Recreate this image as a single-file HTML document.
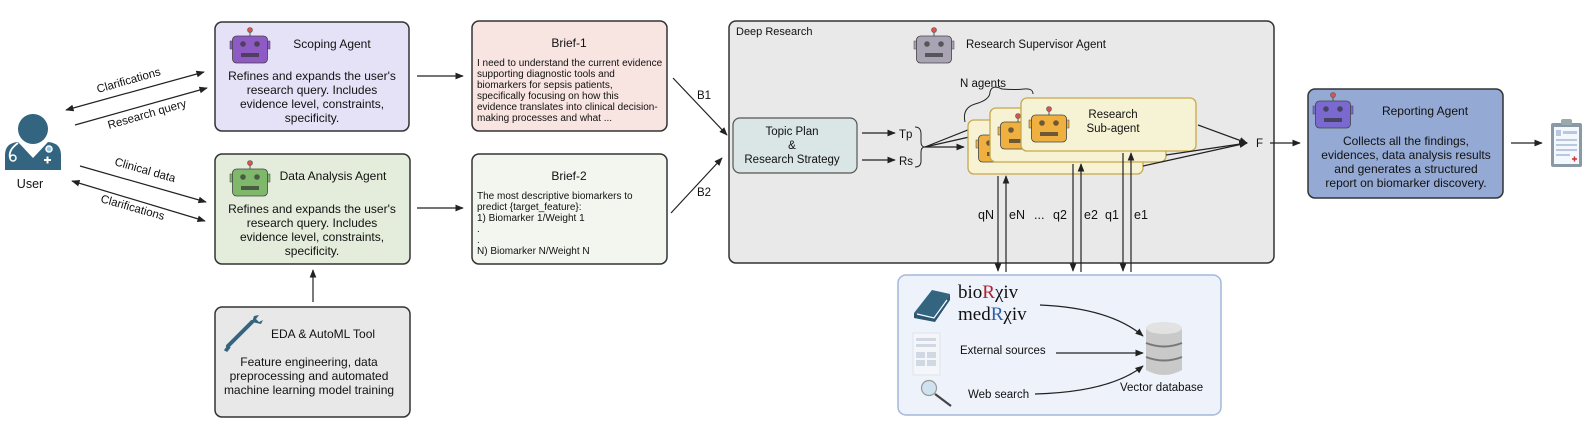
<!DOCTYPE html>
<html><head><meta charset="utf-8"><style>
html,body{margin:0;padding:0;background:#fff}
svg{display:block}
text{font-family:"Liberation Sans",sans-serif;fill:#111}
</style></head><body>
<svg width="1588" height="439" viewBox="0 0 1588 439" xmlns="http://www.w3.org/2000/svg">
<defs>
<marker id="ah" viewBox="0 0 10 10" refX="9" refY="5" markerWidth="7" markerHeight="7" orient="auto-start-reverse"><path d="M0,1 L10,5 L0,9 z" fill="#222"/></marker>
<g id="robot">
<line x1="20" y1="2" x2="20" y2="9" stroke="#555" stroke-width="1"/>
<circle cx="20" cy="3" r="2.5" fill="#d9534f" stroke="#555" stroke-width="0.6"/>
<rect x="0" y="14" width="3" height="8" fill="currentColor" stroke="#444" stroke-width="0.5"/>
<rect x="37" y="14" width="3" height="8" fill="currentColor" stroke="#444" stroke-width="0.5"/>
<rect x="2.5" y="9" width="35" height="27" rx="4" fill="currentColor" stroke="#444" stroke-width="0.8"/>
<circle cx="13" cy="17" r="2.8" fill="#333" opacity="0.7"/>
<circle cx="27" cy="17" r="2.8" fill="#333" opacity="0.7"/>
<rect x="11" y="26" width="18" height="4" fill="#333" opacity="0.7"/>
</g>
</defs>

<!-- User -->
<g fill="#336580">
<circle cx="33" cy="129" r="15"/>
<path d="M5,170 L5,155 Q5,143 18,142 L33,158 L48,142 Q61,143 61,155 L61,170 z"/>
</g>
<path d="M18,143 Q8,150 10,158" stroke="#fff" stroke-width="1.8" fill="none"/>
<circle cx="13" cy="158" r="3" stroke="#fff" stroke-width="1.5" fill="none"/>
<circle cx="49" cy="149" r="3" stroke="#fff" stroke-width="1.5" fill="#8ec6e6"/>
<path d="M44,160 h7 M47.5,156.5 v7" stroke="#fff" stroke-width="2"/>
<text x="30" y="188" font-size="12.5" text-anchor="middle">User</text>

<!-- user arrows -->
<line x1="66" y1="110" x2="204" y2="72" stroke="#222" stroke-width="1.2" marker-start="url(#ah)" marker-end="url(#ah)"/>
<line x1="75" y1="125" x2="207" y2="88" stroke="#222" stroke-width="1.2" marker-end="url(#ah)"/>
<line x1="80" y1="166" x2="206" y2="202" stroke="#222" stroke-width="1.2" marker-end="url(#ah)"/>
<line x1="72" y1="181" x2="205" y2="221" stroke="#222" stroke-width="1.2" marker-start="url(#ah)" marker-end="url(#ah)"/>
<text font-size="11.5" transform="translate(98,93) rotate(-16)">Clarifications</text>
<text font-size="11.5" transform="translate(109,129) rotate(-16)">Research query</text>
<text font-size="11.5" transform="translate(114,165) rotate(16)">Clinical data</text>
<text font-size="11.5" transform="translate(100,202) rotate(16)">Clarifications</text>

<!-- Scoping -->
<rect x="215" y="22" width="194" height="109" rx="7" fill="#e5e2f7" stroke="#333" stroke-width="1.5"/>
<use href="#robot" x="230" y="27" style="color:#8e5ac4"/>
<text x="332" y="48" font-size="12" text-anchor="middle">Scoping Agent</text>
<g font-size="12" text-anchor="middle"><text x="312" y="80">Refines and expands the user's</text><text x="312" y="94">research query. Includes</text><text x="312" y="108">evidence level, constraints,</text><text x="312" y="122">specificity.</text></g>

<!-- Data Analysis -->
<rect x="215" y="154" width="195" height="110" rx="7" fill="#e4ecdc" stroke="#333" stroke-width="1.5"/>
<use href="#robot" x="230" y="160" style="color:#7fb86a"/>
<text x="333" y="180" font-size="12" text-anchor="middle">Data Analysis Agent</text>
<g font-size="12" text-anchor="middle"><text x="312" y="213">Refines and expands the user's</text><text x="312" y="227">research query. Includes</text><text x="312" y="241">evidence level, constraints,</text><text x="312" y="255">specificity.</text></g>

<!-- EDA -->
<rect x="215" y="307" width="195" height="110" rx="7" fill="#e8e8e8" stroke="#333" stroke-width="1.5"/>
<path d="M228,346 L252,322" stroke="#336580" stroke-width="4" stroke-linecap="round"/>
<path d="M252,322 l2,-6 l5,-1 l-3,4 l3,3 l4,-2 l-2,4 z" fill="#336580"/>
<path d="M228,346 l-3,4 l2,1 l3,-4" fill="#336580" stroke="#336580" stroke-width="1.5"/>
<text x="323" y="338" font-size="12" text-anchor="middle">EDA &amp; AutoML Tool</text>
<g font-size="12" text-anchor="middle"><text x="309" y="366">Feature engineering, data</text><text x="309" y="380">preprocessing and automated</text><text x="309" y="394">machine learning model training</text></g>
<line x1="313" y1="302" x2="313" y2="270" stroke="#222" stroke-width="1.2" marker-end="url(#ah)"/>

<line x1="417" y1="76" x2="463" y2="76" stroke="#222" stroke-width="1.2" marker-end="url(#ah)"/>
<line x1="417" y1="208" x2="463" y2="208" stroke="#222" stroke-width="1.2" marker-end="url(#ah)"/>

<!-- Briefs -->
<rect x="472" y="21" width="195" height="110" rx="7" fill="#f8e4e1" stroke="#333" stroke-width="1.5"/>
<text x="569" y="47" font-size="12" text-anchor="middle">Brief-1</text>
<g font-size="10"><text x="477" y="66">I need to understand the current evidence</text><text x="477" y="77">supporting diagnostic tools and</text><text x="477" y="88">biomarkers for sepsis patients,</text><text x="477" y="99">specifically focusing on how this</text><text x="477" y="110">evidence translates into clinical decision-</text><text x="477" y="121">making processes and what ...</text></g>
<rect x="472" y="154" width="195" height="110" rx="7" fill="#f3f6ef" stroke="#333" stroke-width="1.5"/>
<text x="569" y="180" font-size="12" text-anchor="middle">Brief-2</text>
<g font-size="10"><text x="477" y="199">The most descriptive biomarkers to</text><text x="477" y="210">predict {target_feature}:</text><text x="477" y="221">1) Biomarker 1/Weight 1</text><text x="477" y="232">.</text><text x="477" y="243">.</text><text x="477" y="254">N) Biomarker N/Weight N</text></g>

<line x1="673" y1="78" x2="727" y2="135" stroke="#222" stroke-width="1.2" marker-end="url(#ah)"/>
<line x1="671" y1="213" x2="722" y2="158" stroke="#222" stroke-width="1.2" marker-end="url(#ah)"/>
<text x="697" y="99" font-size="11.5">B1</text>
<text x="697" y="196" font-size="11.5">B2</text>

<!-- Deep research -->
<rect x="729" y="21" width="545" height="242" rx="7" fill="#e9e9e9" stroke="#333" stroke-width="1.5"/>
<text x="736" y="35" font-size="11">Deep Research</text>
<use href="#robot" x="914" y="27" style="color:#a8a4b4"/>
<text x="966" y="48" font-size="11.5">Research Supervisor Agent</text>

<rect x="733" y="118" width="124" height="55" rx="7" fill="#d9e6e5" stroke="#555" stroke-width="1.2"/>
<g font-size="11.5" text-anchor="middle"><text x="792" y="135">Topic Plan</text><text x="792" y="149">&amp;</text><text x="792" y="163">Research Strategy</text></g>
<line x1="862" y1="133" x2="895" y2="133" stroke="#222" stroke-width="1.2" marker-end="url(#ah)"/>
<line x1="862" y1="160" x2="895" y2="160" stroke="#222" stroke-width="1.2" marker-end="url(#ah)"/>
<text x="899" y="138" font-size="11.5">Tp</text>
<text x="899" y="165" font-size="11.5">Rs</text>
<path d="M915,127 Q921,127 921,134 L921,142 Q921,147 925,147 Q921,147 921,152 L921,161 Q921,167 915,167" stroke="#222" stroke-width="1" fill="none"/>
<line x1="925" y1="147" x2="964" y2="147" stroke="#222" stroke-width="1.2" marker-end="url(#ah)"/>
<line x1="925" y1="147" x2="987" y2="133" stroke="#222" stroke-width="1.2" marker-end="url(#ah)"/>
<line x1="925" y1="147" x2="1018" y2="110" stroke="#222" stroke-width="1.2" marker-end="url(#ah)"/>

<text x="960" y="87" font-size="11.5">N agents</text>
<path d="M965,122 Q962,108 975,104 Q990,100 990,92 Q992,84 1002,89 Q1015,90 1024,89 Q1033,88 1033,94" stroke="#222" stroke-width="1" fill="none"/>

<rect x="968" y="120" width="175" height="54" rx="6" fill="#f6f2d3" stroke="#c8a84a" stroke-width="1.3"/>
<use href="#robot" x="976" y="126" style="color:#f0b040"/>
<rect x="990" y="108" width="176" height="54" rx="6" fill="#f6f2d3" stroke="#c8a84a" stroke-width="1.3"/>
<use href="#robot" x="998" y="113" style="color:#f0b040"/>
<rect x="1021" y="98" width="175" height="53" rx="6" fill="#f6f3d4" stroke="#c8a84a" stroke-width="1.3"/>
<use href="#robot" x="1029" y="106" style="color:#f0b040"/>
<g font-size="11.5" text-anchor="middle"><text x="1113" y="118">Research</text><text x="1113" y="132">Sub-agent</text></g>

<line x1="1198" y1="125" x2="1247" y2="143" stroke="#222" stroke-width="1.2" marker-end="url(#ah)"/>
<line x1="1166" y1="155" x2="1247" y2="143" stroke="#222" stroke-width="1.2" marker-end="url(#ah)"/>
<line x1="1143" y1="166" x2="1247" y2="143" stroke="#222" stroke-width="1.2" marker-end="url(#ah)"/>
<text x="1256" y="147" font-size="11.5">F</text>
<line x1="1270" y1="143" x2="1300" y2="143" stroke="#222" stroke-width="1.2" marker-end="url(#ah)"/>

<!-- vertical arrows -->
<g stroke="#222" stroke-width="1.2">
<line x1="998" y1="176" x2="998" y2="271" marker-end="url(#ah)"/>
<line x1="1006" y1="272" x2="1006" y2="176" marker-end="url(#ah)"/>
<line x1="1073" y1="164" x2="1073" y2="271" marker-end="url(#ah)"/>
<line x1="1081" y1="272" x2="1081" y2="164" marker-end="url(#ah)"/>
<line x1="1123" y1="153" x2="1123" y2="271" marker-end="url(#ah)"/>
<line x1="1131" y1="272" x2="1131" y2="153" marker-end="url(#ah)"/>
</g>
<g font-size="12.5"><text x="978" y="219">qN</text><text x="1009" y="219">eN</text><text x="1034" y="219">...</text><text x="1053" y="219">q2</text><text x="1084" y="219">e2</text><text x="1105" y="219">q1</text><text x="1134" y="219">e1</text></g>

<!-- data sources -->
<rect x="898" y="275" width="323" height="140" rx="8" fill="#eef3fb" stroke="#a3b8da" stroke-width="1.5"/>
<path d="M914,313 L932,290 L950,294 L934,318 z" fill="#336580"/>
<path d="M914,313 L934,318 L950,294 L950,300 L935,322 L914,318 z" fill="#2b5670"/>
<path d="M917,314 L934,318 L947,300" stroke="#fff" stroke-width="1.2" fill="none"/>
<text x="958" y="298" font-size="19" font-family="Liberation Serif,serif" style="font-family:'Liberation Serif',serif">bio<tspan fill="#b21f2d" style="fill:#b21f2d">R</tspan>χiv</text>
<text x="958" y="320" font-size="19" style="font-family:'Liberation Serif',serif">med<tspan style="fill:#2c5fa8">R</tspan>χiv</text>
<rect x="913" y="333" width="27" height="42" fill="#f4f6fa" stroke="#dde3ec"/>
<g fill="#d0d8e4"><rect x="916" y="338" width="20" height="3"/><rect x="916" y="344" width="20" height="3"/><rect x="916" y="352" width="9" height="6"/><rect x="927" y="352" width="9" height="6"/><rect x="916" y="360" width="9" height="6"/><rect x="927" y="360" width="9" height="6"/></g>
<text x="960" y="354" font-size="11.5">External sources</text>
<circle cx="929" cy="388" r="7.5" fill="#cfe3ef" stroke="#999" stroke-width="1.2"/>
<line x1="935" y1="394" x2="951" y2="406" stroke="#444" stroke-width="2.2"/>
<text x="968" y="398" font-size="11.5">Web search</text>
<g>
<path d="M1146,328 L1146,370 Q1164,380 1182,370 L1182,328 z" fill="#c9c9c9"/>
<ellipse cx="1164" cy="328" rx="18" ry="6" fill="#e2e2e2"/>
<path d="M1146,343 Q1164,350 1182,343" stroke="#777" stroke-width="2" fill="none"/>
<path d="M1146,357 Q1164,364 1182,357" stroke="#777" stroke-width="2" fill="none"/>
</g>
<text x="1120" y="391" font-size="11.5">Vector database</text>
<path d="M1040,305 Q1110,308 1143,336" stroke="#222" stroke-width="1.2" fill="none" marker-end="url(#ah)"/>
<line x1="1056" y1="353" x2="1143" y2="353" stroke="#222" stroke-width="1.2" marker-end="url(#ah)"/>
<path d="M1035,394 Q1110,392 1143,366" stroke="#222" stroke-width="1.2" fill="none" marker-end="url(#ah)"/>

<!-- Reporting -->
<rect x="1308" y="89" width="195" height="109" rx="7" fill="#94a9d3" stroke="#333" stroke-width="1.5"/>
<use href="#robot" x="1313" y="92" style="color:#7a6ad0"/>
<text x="1425" y="115" font-size="12" text-anchor="middle">Reporting Agent</text>
<g font-size="12" text-anchor="middle"><text x="1406" y="145">Collects all the findings,</text><text x="1406" y="159">evidences, data analysis results</text><text x="1406" y="173">and generates a structured</text><text x="1406" y="187">report on biomarker discovery.</text></g>
<line x1="1511" y1="143" x2="1542" y2="143" stroke="#222" stroke-width="1.2" marker-end="url(#ah)"/>
<rect x="1551" y="123" width="31" height="44" rx="2" fill="#8a99a6"/>
<rect x="1554" y="127" width="25" height="37" fill="#f4f7fb"/>
<rect x="1561" y="119" width="11" height="6" rx="2" fill="#9aa"/>
<g fill="#b8c8e0"><rect x="1556" y="130" width="5" height="6"/><rect x="1563" y="131" width="14" height="3"/><rect x="1556" y="139" width="21" height="2"/><rect x="1556" y="144" width="21" height="2"/><rect x="1556" y="149" width="21" height="2"/><rect x="1556" y="154" width="14" height="2"/></g>
<path d="M1572,159 h5 M1574.5,156.5 v5" stroke="#c33" stroke-width="1.5"/>
</svg>
</body></html>
